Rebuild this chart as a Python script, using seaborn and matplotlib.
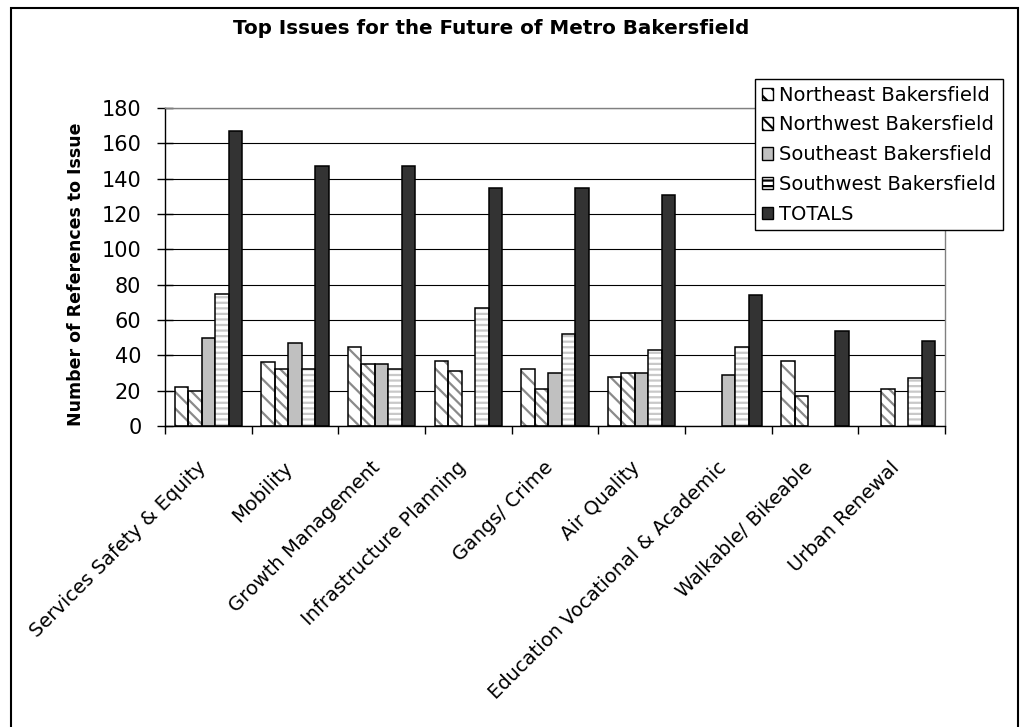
import pandas as pd
import numpy as np
import matplotlib
matplotlib.use("Agg")
import matplotlib.pyplot as plt
import matplotlib.transforms as mtransforms
from matplotlib.patches import Patch, Rectangle
import seaborn as sns

# values
issues = ["Services Safety & Equity", "Mobility", "Growth Management",
          "Infrastructure Planning", "Gangs/ Crime", "Air Quality",
          "Education Vocational & Academic", "Walkable/ Bikeable", "Urban Renewal"]
areas = ["Northeast Bakersfield", "Northwest Bakersfield", "Southeast Bakersfield",
         "Southwest Bakersfield", "TOTALS"]
northeast = [22, 36, 45, 37, 32, 28, 0, 37, 0]
northwest = [20, 32, 35, 31, 21, 30, 0, 17, 21]
southeast = [50, 47, 35, 0, 30, 30, 29, 0, 0]
southwest = [75, 32, 32, 67, 52, 43, 45, 0, 27]
totals = [167, 147, 147, 135, 135, 131, 74, 54, 48]

fills = {"Northeast Bakersfield": "white", "Northwest Bakersfield": "white",
         "Southeast Bakersfield": "#c0c0c0", "Southwest Bakersfield": "white",
         "TOTALS": "#333333"}
hatches = {"Northeast Bakersfield": "\\\\", "Northwest Bakersfield": "\\\\\\",
           "Southwest Bakersfield": "---"}
hatch_cols = {"Northeast Bakersfield": "#8a8a8a", "Northwest Bakersfield": "#8a8a8a",
              "Southwest Bakersfield": "#c8c8c8"}

sns.set_theme(style="white")
plt.rcParams["font.family"] = ["DejaVu Sans"]
plt.rcParams["hatch.linewidth"] = 1.6
plt.rcParams["text.color"] = "black"
plt.rcParams["axes.labelcolor"] = "black"
plt.rcParams["xtick.color"] = "black"
plt.rcParams["ytick.color"] = "black"

rows = []
for area, vals in zip(areas, [northeast, northwest, southeast, southwest, totals]):
    for issue, v in zip(issues, vals):
        if v > 0:
            rows.append({"Issue": issue, "Area": area, "Count": v})
df = pd.DataFrame(rows)

fig = plt.figure(figsize=(10.26, 7.27), dpi=100)
ax = fig.add_axes([165 / 1026, 1 - 426 / 727, 780 / 1026, 318 / 727])

sns.barplot(data=df, x="Issue", y="Count", hue="Area", order=issues, hue_order=areas,
            palette=fills, width=0.78, saturation=1, edgecolor="black", linewidth=1.1,
            errorbar=None, legend=False, ax=ax)

# patterned bars: grey hatch inside, black outline on top
for area, bars in zip(areas, ax.containers):
    if area not in hatches:
        continue
    for p in bars:
        p.set_hatch(hatches[area])
        p.set_edgecolor(hatch_cols[area])
        p.set_linewidth(0)
        ax.add_patch(Rectangle(p.get_xy(), p.get_width(), p.get_height(), fill=False,
                               edgecolor="black", linewidth=1.1, zorder=p.get_zorder() + 0.1))

ax.set_xlim(-0.5, len(issues) - 0.5)
ax.set_ylim(0, 180)
ax.set_yticks(range(0, 181, 20))
ax.yaxis.grid(True, color="black", linewidth=0.8)
ax.set_axisbelow(True)

ax.set_xticks(np.arange(-0.5, len(issues)), minor=True)
ax.tick_params(axis="x", which="minor", bottom=True, length=6, width=1, color="black", direction="out")
ax.tick_params(axis="x", which="major", bottom=False, length=0, pad=28)
ax.set_xticks(range(len(issues)))
ax.set_xticklabels(issues, rotation=45, ha="right", va="center", rotation_mode="anchor",
                   fontsize=14, color="black")
shift = mtransforms.ScaledTranslation(-5 / 100, 0, fig.dpi_scale_trans)
for lab in ax.get_xticklabels():
    lab.set_transform(lab.get_transform() + shift)

ax.tick_params(axis="y", left=True, direction="inout", length=12, width=1, color="black",
               pad=11, labelsize=15, labelcolor="black")

for s in ["left", "bottom"]:
    ax.spines[s].set_color("black")
    ax.spines[s].set_linewidth(1)
for s in ["top", "right"]:
    ax.spines[s].set_color("#808080")
    ax.spines[s].set_linewidth(1)

ax.set_xlabel("")
ax.set_ylabel("Number of References to Issue", fontsize=12.5, fontweight="bold", color="black")
ax.yaxis.set_label_coords(-0.103, 0.478)

fig.text(491 / 1026, 1 - 29 / 727, "Top Issues for the Future of Metro Bakersfield",
         ha="center", va="center", fontsize=14.3, fontweight="bold", color="black")

handles = [Patch(facecolor=fills[a], edgecolor="black", hatch=hatches.get(a), label=a) for a in areas]
leg = fig.legend(handles=handles, loc="upper right", bbox_to_anchor=(1003 / 1026, 1 - 79 / 727),
                 fontsize=14, frameon=True, fancybox=False, edgecolor="black", framealpha=1,
                 handlelength=0.6, handleheight=0.6, handletextpad=0.3, labelspacing=0.55,
                 borderpad=0.35, borderaxespad=0)
leg.get_frame().set_linewidth(1)
for t in leg.get_texts():
    t.set_color("black")

fig.add_artist(Rectangle((11 / 1026, -0.05), 1007 / 1026, 1 - 8 / 727 + 0.05,
                         transform=fig.transFigure, fill=False, edgecolor="black", linewidth=1.5))

fig.savefig("out.png", dpi=100)
